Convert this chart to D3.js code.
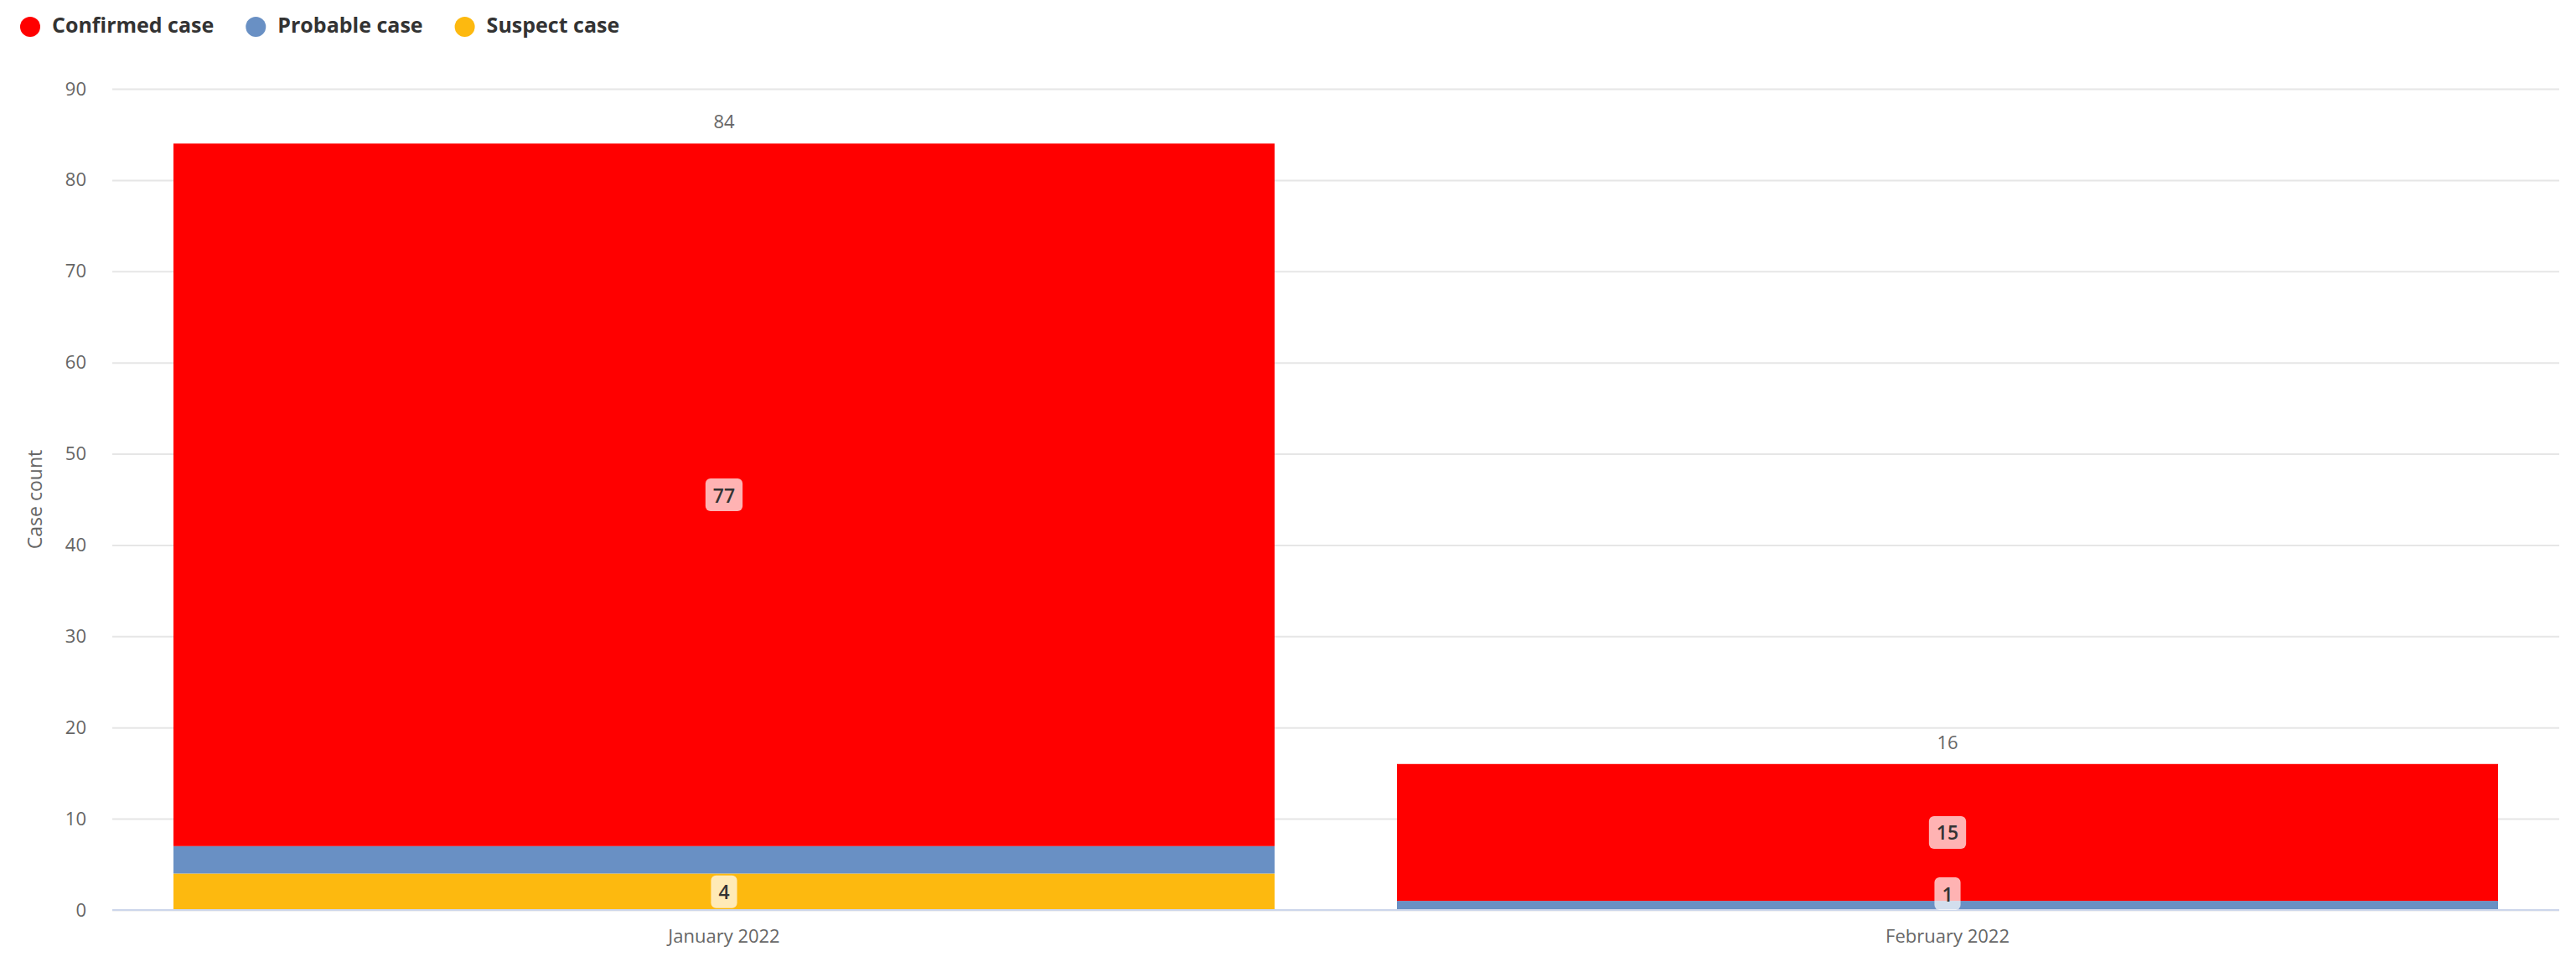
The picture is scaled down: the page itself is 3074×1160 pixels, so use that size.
<!DOCTYPE html>
<html>
<head>
<meta charset="utf-8">
<script src="https://cdn.jsdelivr.net/npm/d3@7"></script>
<style>
  html, body { margin: 0; padding: 0; background: #ffffff; }
  svg { display: block; font-family: "Open Sans", "Noto Sans", sans-serif; }
</style>
</head>
<body>
<svg id="chart" width="3074" height="1160"></svg>
<script>
// ---- data ----
const categories = ["January 2022", "February 2022"];
const seriesNames = ["Confirmed case", "Probable case", "Suspect case"];
const confirmed = [77, 15];
const probable = [3, 1];
const suspect = [4, null];
const yTicks = [0, 10, 20, 30, 40, 50, 60, 70, 80, 90];
const seriesColors = ["#ff0000", "#6990c4", "#fdb90f"];

// ---- layout ----
const plot = { left: 134, right: 3054, top: 106, bottom: 1086 };

const svg = d3.select("#chart");

const x = d3.scaleBand()
  .domain(categories)
  .range([plot.left, plot.right])
  .paddingInner(0.1)
  .paddingOuter(0.05);

const y = d3.scaleLinear()
  .domain([0, 90])
  .range([plot.bottom, plot.top]);

// gridlines + y tick labels
const yAxis = d3.axisLeft(y)
  .tickValues(yTicks)
  .tickSize(-(plot.right - plot.left))
  .tickPadding(31)
  .tickFormat(d3.format("d"));

const gy = svg.append("g")
  .attr("transform", `translate(${plot.left},0)`)
  .call(yAxis);
gy.select(".domain").remove();
gy.selectAll(".tick line")
  .attr("stroke", "#e6e6e6")
  .attr("stroke-width", 2);
gy.selectAll(".tick text")
  .attr("fill", "#666666")
  .attr("font-size", 22)
  .attr("font-family", "Open Sans, Noto Sans, sans-serif");

// y axis title
svg.append("text")
  .attr("transform", `translate(44,${(plot.top + plot.bottom) / 2}) rotate(-90)`)
  .attr("text-anchor", "middle")
  .attr("dominant-baseline", "middle")
  .attr("fill", "#666666")
  .attr("font-size", 23)
  .text("Case count");

// ---- stacked bars ----
const rows = categories.map((c, i) => ({
  category: c,
  "Confirmed case": confirmed[i],
  "Probable case": probable[i],
  "Suspect case": suspect[i]
}));

// stacking order bottom -> top: Suspect, Probable, Confirmed
const stackOrder = ["Suspect case", "Probable case", "Confirmed case"];
const stack = d3.stack()
  .keys(stackOrder)
  .value((d, k) => d[k] == null ? 0 : d[k]);
const stacked = stack(rows);
const color = d3.scaleOrdinal().domain(seriesNames).range(seriesColors);

const barsG = svg.append("g");
stacked.forEach(layer => {
  barsG.selectAll(null)
    .data(layer.filter(d => d[1] - d[0] > 0))
    .enter()
    .append("rect")
    .attr("x", d => x(d.data.category))
    .attr("width", x.bandwidth())
    .attr("y", d => y(d[1]))
    .attr("height", d => y(d[0]) - y(d[1]))
    .attr("fill", color(layer.key));
});

// x axis line (baseline)
svg.append("line")
  .attr("x1", plot.left).attr("x2", plot.right)
  .attr("y1", y(0)).attr("y2", y(0))
  .attr("stroke", "#ccd6eb")
  .attr("stroke-width", 2);

// x axis labels
const xAxis = d3.axisBottom(x).tickSize(0).tickPadding(31);
const gx = svg.append("g")
  .attr("transform", `translate(0,${plot.bottom})`)
  .call(xAxis);
gx.select(".domain").remove();
gx.selectAll(".tick text")
  .attr("dy", "0.35em")
  .attr("fill", "#666666")
  .attr("font-size", 22)
  .attr("font-family", "Open Sans, Noto Sans, sans-serif");

// ---- stack total labels ----
const totals = rows.map(r => stackOrder.reduce((s, k) => s + (r[k] || 0), 0));
svg.append("g").selectAll("text")
  .data(rows)
  .enter()
  .append("text")
  .attr("x", d => x(d.category) + x.bandwidth() / 2)
  .attr("y", (d, i) => y(totals[i]) - 24)
  .attr("text-anchor", "middle")
  .attr("dominant-baseline", "middle")
  .attr("fill", "#666666")
  .attr("font-size", 22)
  .text((d, i) => totals[i]);

// ---- data labels inside segments ----
const boxH = 39, padX = 9;
let labels = [];
stacked.forEach(layer => {
  layer.forEach(d => {
    const v = d.data[layer.key];
    if (v == null || v === 0) return;
    const yTop = y(d[1]), yBot = y(d[0]);
    let cy = (yTop + yBot) / 2;
    if (cy + boxH / 2 > plot.bottom) cy = plot.bottom - boxH / 2;
    labels.push({
      cx: x(d.data.category) + x.bandwidth() / 2,
      cy: cy,
      text: String(v),
      rank: yBot - yTop
    });
  });
});

const labelG = svg.append("g");
// sort by rank (segment height) descending; hide lower-ranked overlapping labels
labels.sort((a, b) => b.rank - a.rank);
const placed = [];
labels.forEach(l => {
  const g = labelG.append("g");
  const t = g.append("text")
    .attr("x", l.cx)
    .attr("y", l.cy)
    .attr("text-anchor", "middle")
    .attr("dominant-baseline", "central")
    .attr("font-size", 23)
    .attr("font-weight", 600)
    .attr("fill", "#333333")
    .text(l.text);
  const w = t.node().getComputedTextLength() + 2 * padX;
  const box = { x0: l.cx - w / 2, x1: l.cx + w / 2, y0: l.cy - boxH / 2, y1: l.cy + boxH / 2 };
  const m = 2;
  const overlaps = placed.some(p => !(box.x1 + m < p.x0 || box.x0 - m > p.x1 || box.y1 + m < p.y0 || box.y0 - m > p.y1));
  if (overlaps) { g.remove(); return; }
  placed.push(box);
  g.insert("rect", "text")
    .attr("x", box.x0)
    .attr("y", box.y0)
    .attr("width", w)
    .attr("height", boxH)
    .attr("rx", 6)
    .attr("fill", "rgba(255,255,255,0.7)");
});

// ---- legend ----
const legend = svg.append("g");
let lx = 24;
seriesNames.forEach((name, i) => {
  const item = legend.append("g");
  item.append("circle")
    .attr("cx", lx + 12)
    .attr("cy", 32)
    .attr("r", 12)
    .attr("fill", seriesColors[i]);
  const t = item.append("text")
    .attr("x", lx + 38)
    .attr("y", 32)
    .attr("dominant-baseline", "middle")
    .attr("font-size", 25)
    .attr("font-weight", "bold")
    .attr("fill", "#333333")
    .text(name);
  lx = lx + 38 + t.node().getComputedTextLength() + 38;
});
</script>
</body>
</html>
